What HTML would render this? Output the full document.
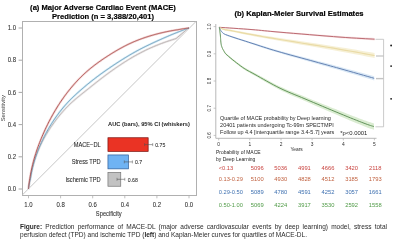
<!DOCTYPE html>
<html><head><meta charset="utf-8"><style>
html,body{margin:0;padding:0;background:#fff;width:400px;height:246px;overflow:hidden}
svg{position:absolute;left:0;top:0}
#wrap{position:absolute;left:0;top:0;width:400px;height:246px;filter:blur(0.45px)}
svg text{font-family:"Liberation Sans",sans-serif}
.cap{position:absolute;left:20px;width:367px;font-family:"Liberation Sans",sans-serif;font-size:6.54px;color:#2a2a2a;line-height:7.5px;white-space:nowrap}
.j{text-align:justify;text-align-last:justify}
</style></head><body><div id="wrap">
<svg width="400" height="246" viewBox="0 0 400 246">
<text x="0" y="2.736" transform="translate(103,7.264) scale(1,1.04)" font-size="7.6" fill="#000" text-anchor="middle" font-weight="bold"  stroke="#000" stroke-width="0.18">(a) Major Adverse Cardiac Event (MACE)</text>
<text x="0" y="2.736" transform="translate(103,16.264) scale(1,1.04)" font-size="7.6" fill="#000" text-anchor="middle" font-weight="bold"  stroke="#000" stroke-width="0.18">Prediction (n = 3,388/20,401)</text>
<text x="0" y="2.736" transform="translate(299.0,13.264) scale(1,1.04)" font-size="7.6" fill="#000" text-anchor="middle" font-weight="bold"  stroke="#000" stroke-width="0.18">(b) Kaplan-Meier Survival Estimates</text>
<rect x="22.5" y="21.5" width="174" height="174" fill="none" stroke="#b0b0b0" stroke-width="1"/>
<line x1="22" y1="195.3" x2="196" y2="21.5" stroke="#bfbfbf" stroke-width="0.9"/>
<line x1="18.6" y1="189.0" x2="22" y2="189.0" stroke="#909090" stroke-width="0.8"/>
<text x="0" y="2.160" transform="translate(16.1,188.940) scale(1,1.05)" font-size="6" fill="#2e2e2e" text-anchor="end" font-weight="normal" stroke="#2e2e2e" stroke-width="0.06" >0.0</text>
<line x1="18.6" y1="156.8" x2="22" y2="156.8" stroke="#909090" stroke-width="0.8"/>
<text x="0" y="2.160" transform="translate(16.1,156.740) scale(1,1.05)" font-size="6" fill="#2e2e2e" text-anchor="end" font-weight="normal" stroke="#2e2e2e" stroke-width="0.06" >0.2</text>
<line x1="18.6" y1="124.6" x2="22" y2="124.6" stroke="#909090" stroke-width="0.8"/>
<text x="0" y="2.160" transform="translate(16.1,124.540) scale(1,1.05)" font-size="6" fill="#2e2e2e" text-anchor="end" font-weight="normal" stroke="#2e2e2e" stroke-width="0.06" >0.4</text>
<line x1="18.6" y1="92.4" x2="22" y2="92.4" stroke="#909090" stroke-width="0.8"/>
<text x="0" y="2.160" transform="translate(16.1,92.340) scale(1,1.05)" font-size="6" fill="#2e2e2e" text-anchor="end" font-weight="normal" stroke="#2e2e2e" stroke-width="0.06" >0.6</text>
<line x1="18.6" y1="60.2" x2="22" y2="60.2" stroke="#909090" stroke-width="0.8"/>
<text x="0" y="2.160" transform="translate(16.1,60.140) scale(1,1.05)" font-size="6" fill="#2e2e2e" text-anchor="end" font-weight="normal" stroke="#2e2e2e" stroke-width="0.06" >0.8</text>
<line x1="18.6" y1="28.0" x2="22" y2="28.0" stroke="#909090" stroke-width="0.8"/>
<text x="0" y="2.160" transform="translate(16.1,27.940) scale(1,1.05)" font-size="6" fill="#2e2e2e" text-anchor="end" font-weight="normal" stroke="#2e2e2e" stroke-width="0.06" >1.0</text>
<line x1="28.5" y1="195.3" x2="28.5" y2="198.3" stroke="#b0b0b0" stroke-width="0.8"/>
<text x="0" y="2.160" transform="translate(28.5,204.840) scale(1,1.05)" font-size="6" fill="#2e2e2e" text-anchor="middle" font-weight="normal" stroke="#2e2e2e" stroke-width="0.06" >1.0</text>
<line x1="60.6" y1="195.3" x2="60.6" y2="198.3" stroke="#b0b0b0" stroke-width="0.8"/>
<text x="0" y="2.160" transform="translate(60.6,204.840) scale(1,1.05)" font-size="6" fill="#2e2e2e" text-anchor="middle" font-weight="normal" stroke="#2e2e2e" stroke-width="0.06" >0.8</text>
<line x1="92.7" y1="195.3" x2="92.7" y2="198.3" stroke="#b0b0b0" stroke-width="0.8"/>
<text x="0" y="2.160" transform="translate(92.7,204.840) scale(1,1.05)" font-size="6" fill="#2e2e2e" text-anchor="middle" font-weight="normal" stroke="#2e2e2e" stroke-width="0.06" >0.6</text>
<line x1="124.8" y1="195.3" x2="124.8" y2="198.3" stroke="#b0b0b0" stroke-width="0.8"/>
<text x="0" y="2.160" transform="translate(124.80000000000001,204.840) scale(1,1.05)" font-size="6" fill="#2e2e2e" text-anchor="middle" font-weight="normal" stroke="#2e2e2e" stroke-width="0.06" >0.4</text>
<line x1="156.9" y1="195.3" x2="156.9" y2="198.3" stroke="#b0b0b0" stroke-width="0.8"/>
<text x="0" y="2.160" transform="translate(156.9,204.840) scale(1,1.05)" font-size="6" fill="#2e2e2e" text-anchor="middle" font-weight="normal" stroke="#2e2e2e" stroke-width="0.06" >0.2</text>
<line x1="189.0" y1="195.3" x2="189.0" y2="198.3" stroke="#b0b0b0" stroke-width="0.8"/>
<text x="0" y="2.160" transform="translate(189.0,204.840) scale(1,1.05)" font-size="6" fill="#2e2e2e" text-anchor="middle" font-weight="normal" stroke="#2e2e2e" stroke-width="0.06" >0.0</text>
<text x="0" y="2.070" transform="translate(108.8,213.530) scale(1,1.22)" font-size="5.75" fill="#2e2e2e" text-anchor="middle" font-weight="normal" stroke="#2e2e2e" stroke-width="0.06" >Specificity</text>
<text x="0" y="2.088" font-size="5.8" fill="#3a3a3a" text-anchor="middle" transform="translate(3.4,108.2) rotate(-90) scale(1,1.0)">Sensitivity</text>
<path d="M28.50,188.94 L28.50,188.92 L28.50,188.91 L28.50,188.90 L28.51,188.88 L28.51,188.86 L28.51,188.84 L28.51,188.81 L28.52,188.78 L28.52,188.74 L28.53,188.70 L28.53,188.65 L28.54,188.60 L28.55,188.53 L28.56,188.45 L28.57,188.36 L28.58,188.26 L28.60,188.14 L28.61,188.00 L28.64,187.84 L28.66,187.66 L28.69,187.44 L28.73,187.19 L28.77,186.90 L28.82,186.57 L28.88,186.18 L28.96,185.73 L29.04,185.22 L29.15,184.62 L29.28,183.94 L29.43,183.15 L29.62,182.24 L29.84,181.20 L30.12,179.99 L30.45,178.61 L30.74,177.01 L31.04,175.16 L31.43,173.02 L31.93,170.57 L32.58,167.75 L32.57,167.77 L33.28,165.04 L33.98,162.55 L34.68,160.25 L35.39,158.09 L36.10,156.06 L36.80,154.12 L37.52,152.27 L38.23,150.50 L38.94,148.80 L39.66,147.16 L40.38,145.57 L41.11,144.04 L41.84,142.55 L42.57,141.10 L43.30,139.69 L44.03,138.32 L44.77,136.98 L45.51,135.67 L46.26,134.40 L47.00,133.15 L47.75,131.93 L48.50,130.73 L49.25,129.56 L50.00,128.41 L50.75,127.27 L51.50,126.16 L52.26,125.07 L53.01,124.00 L53.77,122.94 L54.53,121.91 L55.29,120.88 L56.05,119.88 L56.81,118.88 L57.57,117.91 L58.33,116.94 L59.10,115.99 L59.86,115.06 L60.63,114.14 L61.40,113.23 L62.17,112.33 L62.95,111.45 L63.72,110.57 L64.50,109.72 L65.28,108.87 L66.07,108.04 L66.85,107.22 L67.65,106.41 L68.44,105.61 L69.24,104.83 L70.04,104.06 L70.84,103.30 L71.65,102.55 L72.46,101.81 L73.27,101.08 L74.08,100.37 L74.90,99.66 L75.72,98.96 L76.54,98.28 L77.35,97.59 L78.17,96.92 L78.99,96.25 L79.81,95.59 L80.62,94.93 L81.43,94.28 L82.24,93.63 L83.05,92.98 L83.85,92.34 L84.65,91.70 L85.45,91.06 L86.24,90.43 L87.04,89.79 L87.83,89.16 L88.61,88.53 L89.40,87.90 L90.18,87.28 L90.96,86.66 L91.74,86.03 L92.51,85.42 L93.29,84.80 L94.06,84.19 L94.83,83.58 L95.60,82.97 L96.37,82.36 L97.14,81.76 L97.90,81.16 L98.67,80.56 L99.44,79.96 L100.20,79.37 L100.96,78.78 L101.73,78.20 L102.49,77.61 L103.26,77.03 L104.02,76.46 L104.78,75.88 L105.54,75.31 L106.31,74.74 L107.07,74.18 L107.83,73.62 L108.59,73.06 L109.35,72.50 L110.12,71.95 L110.88,71.40 L111.64,70.86 L112.40,70.31 L113.17,69.77 L113.93,69.24 L114.69,68.70 L115.46,68.17 L116.22,67.64 L116.99,67.12 L117.75,66.60 L118.52,66.08 L119.28,65.57 L120.05,65.06 L120.82,64.55 L121.58,64.04 L122.35,63.54 L123.12,63.04 L123.89,62.55 L124.65,62.05 L125.42,61.57 L126.19,61.08 L126.96,60.59 L127.73,60.11 L128.50,59.63 L129.27,59.16 L130.88,58.20 L132.49,57.25 L134.10,56.32 L135.72,55.42 L137.33,54.53 L138.94,53.66 L140.55,52.81 L142.16,51.97 L143.77,51.16 L145.38,50.37 L147.00,49.59 L148.61,48.84 L150.22,48.10 L151.83,47.39 L153.44,46.69 L155.05,46.02 L156.66,45.36 L158.27,44.72 L159.89,44.09 L161.50,43.48 L163.11,42.89 L164.72,42.30 L166.33,41.73 L167.94,41.17 L169.55,40.63 L171.17,40.10 L172.78,39.58 L174.39,39.09 L176.00,38.60 L182.00,33.60 L188.80,27.90" fill="none" stroke="#ebe8e8" stroke-width="2.2" stroke-linejoin="round"/>
<path d="M28.50,188.96 L28.50,188.95 L28.50,188.94 L28.50,188.93 L28.50,188.91 L28.51,188.90 L28.51,188.88 L28.51,188.86 L28.51,188.83 L28.52,188.80 L28.52,188.77 L28.52,188.73 L28.53,188.68 L28.53,188.62 L28.54,188.56 L28.55,188.48 L28.56,188.39 L28.57,188.28 L28.59,188.16 L28.61,188.02 L28.63,187.85 L28.65,187.65 L28.68,187.42 L28.72,187.14 L28.77,186.83 L28.82,186.46 L28.89,186.03 L28.97,185.53 L29.07,184.95 L29.19,184.27 L29.33,183.48 L29.51,182.57 L29.73,181.52 L30.00,180.29 L30.32,178.88 L30.64,177.23 L30.95,175.31 L31.36,173.09 L31.88,170.53 L32.56,167.57 L32.56,167.59 L33.29,164.72 L34.02,162.10 L34.75,159.67 L35.48,157.40 L36.21,155.24 L36.94,153.20 L37.67,151.25 L38.40,149.38 L39.13,147.58 L39.87,145.84 L40.60,144.17 L41.33,142.54 L42.06,140.97 L42.80,139.43 L43.53,137.94 L44.26,136.49 L45.00,135.07 L45.73,133.68 L46.47,132.32 L47.20,131.00 L47.94,129.70 L48.67,128.42 L49.41,127.18 L50.15,125.95 L50.89,124.75 L51.62,123.57 L52.37,122.40 L53.11,121.26 L53.85,120.14 L54.59,119.03 L55.34,117.95 L56.09,116.88 L56.84,115.82 L57.59,114.79 L58.34,113.77 L59.09,112.76 L59.85,111.77 L60.61,110.79 L61.37,109.83 L62.14,108.88 L62.90,107.95 L63.67,107.03 L64.44,106.13 L65.22,105.24 L66.00,104.36 L66.78,103.49 L67.56,102.64 L68.35,101.80 L69.14,100.97 L69.93,100.16 L70.72,99.35 L71.52,98.56 L72.32,97.78 L73.11,97.01 L73.91,96.24 L74.71,95.49 L75.51,94.75 L76.31,94.01 L77.11,93.28 L77.91,92.56 L78.71,91.84 L79.51,91.14 L80.31,90.44 L81.10,89.74 L81.90,89.05 L82.69,88.37 L83.48,87.69 L84.28,87.02 L85.07,86.35 L85.86,85.69 L86.64,85.03 L87.43,84.38 L88.22,83.74 L89.01,83.10 L89.79,82.46 L90.58,81.83 L91.36,81.20 L92.15,80.58 L92.93,79.97 L93.72,79.36 L94.50,78.75 L95.28,78.15 L96.07,77.55 L96.85,76.96 L97.63,76.37 L98.41,75.79 L99.20,75.21 L99.98,74.63 L100.76,74.06 L101.54,73.50 L102.32,72.94 L103.10,72.38 L103.88,71.82 L104.66,71.27 L105.44,70.72 L106.22,70.18 L107.00,69.64 L107.77,69.10 L108.55,68.57 L109.33,68.04 L110.10,67.51 L110.88,66.99 L111.65,66.46 L112.43,65.94 L113.20,65.43 L113.97,64.91 L114.75,64.40 L115.52,63.90 L116.29,63.39 L117.06,62.89 L117.83,62.39 L118.60,61.89 L119.37,61.39 L120.14,60.90 L120.91,60.41 L121.68,59.93 L122.45,59.44 L123.22,58.96 L123.99,58.48 L124.76,58.01 L125.53,57.54 L126.29,57.07 L127.06,56.60 L127.83,56.14 L128.60,55.68 L129.37,55.22 L130.14,54.77 L130.91,54.32 L131.68,53.87 L132.45,53.43 L133.22,52.99 L133.99,52.55 L134.77,52.12 L135.54,51.69 L136.31,51.26 L137.08,50.84 L137.86,50.42 L138.63,50.00 L139.41,49.59 L140.18,49.18 L140.96,48.78 L141.73,48.38 L142.51,47.98 L143.29,47.59 L144.06,47.20 L144.84,46.81 L145.62,46.42 L146.40,46.04 L147.18,45.66 L147.95,45.29 L148.73,44.91 L149.51,44.54 L150.29,44.18 L151.07,43.81 L151.84,43.44 L152.62,43.08 L153.40,42.72 L154.17,42.36 L154.95,42.00 L155.73,41.65 L156.50,41.29 L157.28,40.94 L158.05,40.59 L158.83,40.24 L159.60,39.89 L160.37,39.55 L161.15,39.20 L161.92,38.86 L162.69,38.51 L163.46,38.17 L164.24,37.84 L165.01,37.50 L165.78,37.16 L166.55,36.83 L167.32,36.50 L168.09,36.17 L168.86,35.84 L169.63,35.51 L170.40,35.19 L171.17,34.86 L171.94,34.54 L172.71,34.22 L173.48,33.91 L174.25,33.59 L175.02,33.28 L175.79,32.97 L176.56,32.66 L177.33,32.36 L178.10,32.06 L178.87,31.75 L179.64,31.46 L180.41,31.16 L181.18,30.85 L181.95,30.55 L182.72,30.26 L183.48,29.97 L184.25,29.68 L185.02,29.40 L185.80,29.13 L185.80,29.13 L186.51,28.87 L187.07,28.68 L187.50,28.53 L187.84,28.41 L188.10,28.32 L188.30,28.25 L188.46,28.20 L188.58,28.15 L188.67,28.12 L188.75,28.10 L188.80,28.07 L188.85,28.06 L188.88,28.05 L188.91,28.04 L188.93,28.03 L188.94,28.02 L188.96,28.02 L188.97,28.01 L188.97,28.01 L188.98,28.01 L188.98,28.01 L188.99,28.01 L188.99,28.00 L188.99,28.00 L188.99,28.00 L189.00,28.00 L189.00,28.00 L189.00,28.00 L189.00,28.00 L189.00,28.00 L189.00,28.00 L189.00,28.00 L189.00,28.00 L189.00,28.00 L189.00,28.00 L189.00,28.00 L189.00,28.00 L189.00,28.00 L189.00,28.00" fill="none" stroke="#d2ecf6" stroke-width="2.2" stroke-linejoin="round"/>
<path d="M28.50,188.99 L28.50,188.99 L28.50,188.99 L28.50,188.98 L28.50,188.98 L28.50,188.97 L28.50,188.97 L28.50,188.96 L28.50,188.95 L28.50,188.94 L28.50,188.92 L28.50,188.91 L28.50,188.89 L28.51,188.86 L28.51,188.83 L28.51,188.79 L28.51,188.74 L28.52,188.68 L28.52,188.61 L28.53,188.53 L28.53,188.42 L28.54,188.29 L28.55,188.14 L28.57,187.95 L28.59,187.72 L28.61,187.44 L28.64,187.10 L28.68,186.70 L28.73,186.21 L28.80,185.62 L28.88,184.91 L28.99,184.07 L29.12,183.05 L29.29,181.84 L29.51,180.39 L29.79,178.67 L30.13,176.62 L30.55,174.20 L31.11,171.35 L31.82,167.99 L31.82,167.99 L32.60,164.69 L33.37,161.63 L34.16,158.77 L34.95,156.07 L35.74,153.52 L36.53,151.08 L37.33,148.75 L38.13,146.52 L38.92,144.37 L39.72,142.30 L40.51,140.29 L41.31,138.36 L42.09,136.48 L42.88,134.65 L43.66,132.87 L44.44,131.14 L45.21,129.45 L45.98,127.81 L46.75,126.20 L47.52,124.63 L48.28,123.09 L49.04,121.59 L49.80,120.12 L50.56,118.68 L51.32,117.26 L52.08,115.88 L52.84,114.52 L53.59,113.18 L54.35,111.87 L55.11,110.59 L55.86,109.32 L56.62,108.08 L57.37,106.86 L58.13,105.66 L58.88,104.48 L59.64,103.32 L60.39,102.18 L61.15,101.05 L61.90,99.95 L62.66,98.86 L63.42,97.79 L64.18,96.73 L64.93,95.69 L65.69,94.66 L66.45,93.65 L67.21,92.66 L67.97,91.68 L68.73,90.71 L69.49,89.76 L70.25,88.82 L71.01,87.89 L71.77,86.98 L72.54,86.07 L73.30,85.19 L74.06,84.31 L74.83,83.45 L75.60,82.59 L76.36,81.75 L77.13,80.93 L77.90,80.11 L78.67,79.30 L79.44,78.51 L80.22,77.73 L80.99,76.96 L81.77,76.20 L82.54,75.45 L83.32,74.71 L84.10,73.98 L84.88,73.26 L85.66,72.55 L86.44,71.85 L87.23,71.17 L88.01,70.49 L88.79,69.82 L89.58,69.16 L90.37,68.51 L91.15,67.87 L91.94,67.24 L92.73,66.61 L93.52,66.00 L94.30,65.39 L95.09,64.79 L95.88,64.20 L96.67,63.61 L97.45,63.03 L98.24,62.46 L99.03,61.90 L99.81,61.34 L100.60,60.79 L101.38,60.24 L102.16,59.70 L102.95,59.16 L103.73,58.64 L104.51,58.11 L105.29,57.59 L106.07,57.08 L106.85,56.57 L107.63,56.07 L108.40,55.57 L109.18,55.08 L109.95,54.59 L110.73,54.10 L111.50,53.62 L112.28,53.15 L113.05,52.67 L113.82,52.21 L114.59,51.75 L115.36,51.29 L116.13,50.83 L116.90,50.39 L117.67,49.94 L118.44,49.50 L119.21,49.07 L119.98,48.64 L120.75,48.21 L121.52,47.79 L122.29,47.37 L123.06,46.96 L123.83,46.56 L124.60,46.15 L125.37,45.76 L126.14,45.37 L126.91,44.98 L127.69,44.60 L128.46,44.23 L129.23,43.86 L130.01,43.50 L130.78,43.14 L131.55,42.79 L132.33,42.45 L133.10,42.10 L133.88,41.77 L134.66,41.44 L135.43,41.12 L136.21,40.80 L136.99,40.48 L137.77,40.18 L138.55,39.87 L139.32,39.58 L140.10,39.28 L140.88,38.99 L141.66,38.71 L142.44,38.43 L143.22,38.16 L144.00,37.89 L144.78,37.62 L145.56,37.36 L146.34,37.10 L147.12,36.85 L147.89,36.60 L148.67,36.36 L149.45,36.12 L150.23,35.88 L151.01,35.64 L151.79,35.42 L152.56,35.19 L153.34,34.97 L154.12,34.75 L154.90,34.53 L155.68,34.32 L156.45,34.11 L157.23,33.91 L158.01,33.71 L158.78,33.51 L159.56,33.32 L160.33,33.13 L161.11,32.94 L161.89,32.76 L162.66,32.58 L163.44,32.40 L164.21,32.22 L164.99,32.05 L165.76,31.89 L166.54,31.72 L167.31,31.56 L168.08,31.41 L168.86,31.25 L169.63,31.10 L170.41,30.96 L171.18,30.81 L171.95,30.67 L172.73,30.54 L173.50,30.41 L174.27,30.28 L175.04,30.15 L175.82,30.03 L176.59,29.92 L177.36,29.80 L178.13,29.69 L178.90,29.55 L179.67,29.40 L180.43,29.26 L181.20,29.12 L181.97,28.98 L182.73,28.85 L183.50,28.72 L184.27,28.60 L185.04,28.49 L185.81,28.38 L185.80,28.38 L186.52,28.28 L187.08,28.21 L187.51,28.15 L187.84,28.11 L188.10,28.09 L188.30,28.06 L188.46,28.05 L188.58,28.04 L188.67,28.03 L188.75,28.02 L188.80,28.02 L188.85,28.01 L188.88,28.01 L188.91,28.01 L188.93,28.01 L188.94,28.00 L188.96,28.00 L188.97,28.00 L188.97,28.00 L188.98,28.00 L188.98,28.00 L188.99,28.00 L188.99,28.00 L188.99,28.00 L188.99,28.00 L189.00,28.00 L189.00,28.00 L189.00,28.00 L189.00,28.00 L189.00,28.00 L189.00,28.00 L189.00,28.00 L189.00,28.00 L189.00,28.00 L189.00,28.00 L189.00,28.00 L189.00,28.00 L189.00,28.00 L189.00,28.00" fill="none" stroke="#f2d2d2" stroke-width="2.2" stroke-linejoin="round"/>
<path d="M28.50,188.94 L28.50,188.92 L28.50,188.91 L28.50,188.90 L28.51,188.88 L28.51,188.86 L28.51,188.84 L28.51,188.81 L28.52,188.78 L28.52,188.74 L28.53,188.70 L28.53,188.65 L28.54,188.60 L28.55,188.53 L28.56,188.45 L28.57,188.36 L28.58,188.26 L28.60,188.14 L28.61,188.00 L28.64,187.84 L28.66,187.66 L28.69,187.44 L28.73,187.19 L28.77,186.90 L28.82,186.57 L28.88,186.18 L28.96,185.73 L29.04,185.22 L29.15,184.62 L29.28,183.94 L29.43,183.15 L29.62,182.24 L29.84,181.20 L30.12,179.99 L30.45,178.61 L30.74,177.01 L31.04,175.16 L31.43,173.02 L31.93,170.57 L32.58,167.75 L32.57,167.77 L33.28,165.04 L33.98,162.55 L34.68,160.25 L35.39,158.09 L36.10,156.06 L36.80,154.12 L37.52,152.27 L38.23,150.50 L38.94,148.80 L39.66,147.16 L40.38,145.57 L41.11,144.04 L41.84,142.55 L42.57,141.10 L43.30,139.69 L44.03,138.32 L44.77,136.98 L45.51,135.67 L46.26,134.40 L47.00,133.15 L47.75,131.93 L48.50,130.73 L49.25,129.56 L50.00,128.41 L50.75,127.27 L51.50,126.16 L52.26,125.07 L53.01,124.00 L53.77,122.94 L54.53,121.91 L55.29,120.88 L56.05,119.88 L56.81,118.88 L57.57,117.91 L58.33,116.94 L59.10,115.99 L59.86,115.06 L60.63,114.14 L61.40,113.23 L62.17,112.33 L62.95,111.45 L63.72,110.57 L64.50,109.72 L65.28,108.87 L66.07,108.04 L66.85,107.22 L67.65,106.41 L68.44,105.61 L69.24,104.83 L70.04,104.06 L70.84,103.30 L71.65,102.55 L72.46,101.81 L73.27,101.08 L74.08,100.37 L74.90,99.66 L75.72,98.96 L76.54,98.28 L77.35,97.59 L78.17,96.92 L78.99,96.25 L79.81,95.59 L80.62,94.93 L81.43,94.28 L82.24,93.63 L83.05,92.98 L83.85,92.34 L84.65,91.70 L85.45,91.06 L86.24,90.43 L87.04,89.79 L87.83,89.16 L88.61,88.53 L89.40,87.90 L90.18,87.28 L90.96,86.66 L91.74,86.03 L92.51,85.42 L93.29,84.80 L94.06,84.19 L94.83,83.58 L95.60,82.97 L96.37,82.36 L97.14,81.76 L97.90,81.16 L98.67,80.56 L99.44,79.96 L100.20,79.37 L100.96,78.78 L101.73,78.20 L102.49,77.61 L103.26,77.03 L104.02,76.46 L104.78,75.88 L105.54,75.31 L106.31,74.74 L107.07,74.18 L107.83,73.62 L108.59,73.06 L109.35,72.50 L110.12,71.95 L110.88,71.40 L111.64,70.86 L112.40,70.31 L113.17,69.77 L113.93,69.24 L114.69,68.70 L115.46,68.17 L116.22,67.64 L116.99,67.12 L117.75,66.60 L118.52,66.08 L119.28,65.57 L120.05,65.06 L120.82,64.55 L121.58,64.04 L122.35,63.54 L123.12,63.04 L123.89,62.55 L124.65,62.05 L125.42,61.57 L126.19,61.08 L126.96,60.59 L127.73,60.11 L128.50,59.63 L129.27,59.16 L130.88,58.20 L132.49,57.25 L134.10,56.32 L135.72,55.42 L137.33,54.53 L138.94,53.66 L140.55,52.81 L142.16,51.97 L143.77,51.16 L145.38,50.37 L147.00,49.59 L148.61,48.84 L150.22,48.10 L151.83,47.39 L153.44,46.69 L155.05,46.02 L156.66,45.36 L158.27,44.72 L159.89,44.09 L161.50,43.48 L163.11,42.89 L164.72,42.30 L166.33,41.73 L167.94,41.17 L169.55,40.63 L171.17,40.10 L172.78,39.58 L174.39,39.09 L176.00,38.60 L182.00,33.60 L188.80,27.90" fill="none" stroke="#b8b0b0" stroke-width="0.9" stroke-linejoin="round"/>
<path d="M28.50,188.96 L28.50,188.95 L28.50,188.94 L28.50,188.93 L28.50,188.91 L28.51,188.90 L28.51,188.88 L28.51,188.86 L28.51,188.83 L28.52,188.80 L28.52,188.77 L28.52,188.73 L28.53,188.68 L28.53,188.62 L28.54,188.56 L28.55,188.48 L28.56,188.39 L28.57,188.28 L28.59,188.16 L28.61,188.02 L28.63,187.85 L28.65,187.65 L28.68,187.42 L28.72,187.14 L28.77,186.83 L28.82,186.46 L28.89,186.03 L28.97,185.53 L29.07,184.95 L29.19,184.27 L29.33,183.48 L29.51,182.57 L29.73,181.52 L30.00,180.29 L30.32,178.88 L30.64,177.23 L30.95,175.31 L31.36,173.09 L31.88,170.53 L32.56,167.57 L32.56,167.59 L33.29,164.72 L34.02,162.10 L34.75,159.67 L35.48,157.40 L36.21,155.24 L36.94,153.20 L37.67,151.25 L38.40,149.38 L39.13,147.58 L39.87,145.84 L40.60,144.17 L41.33,142.54 L42.06,140.97 L42.80,139.43 L43.53,137.94 L44.26,136.49 L45.00,135.07 L45.73,133.68 L46.47,132.32 L47.20,131.00 L47.94,129.70 L48.67,128.42 L49.41,127.18 L50.15,125.95 L50.89,124.75 L51.62,123.57 L52.37,122.40 L53.11,121.26 L53.85,120.14 L54.59,119.03 L55.34,117.95 L56.09,116.88 L56.84,115.82 L57.59,114.79 L58.34,113.77 L59.09,112.76 L59.85,111.77 L60.61,110.79 L61.37,109.83 L62.14,108.88 L62.90,107.95 L63.67,107.03 L64.44,106.13 L65.22,105.24 L66.00,104.36 L66.78,103.49 L67.56,102.64 L68.35,101.80 L69.14,100.97 L69.93,100.16 L70.72,99.35 L71.52,98.56 L72.32,97.78 L73.11,97.01 L73.91,96.24 L74.71,95.49 L75.51,94.75 L76.31,94.01 L77.11,93.28 L77.91,92.56 L78.71,91.84 L79.51,91.14 L80.31,90.44 L81.10,89.74 L81.90,89.05 L82.69,88.37 L83.48,87.69 L84.28,87.02 L85.07,86.35 L85.86,85.69 L86.64,85.03 L87.43,84.38 L88.22,83.74 L89.01,83.10 L89.79,82.46 L90.58,81.83 L91.36,81.20 L92.15,80.58 L92.93,79.97 L93.72,79.36 L94.50,78.75 L95.28,78.15 L96.07,77.55 L96.85,76.96 L97.63,76.37 L98.41,75.79 L99.20,75.21 L99.98,74.63 L100.76,74.06 L101.54,73.50 L102.32,72.94 L103.10,72.38 L103.88,71.82 L104.66,71.27 L105.44,70.72 L106.22,70.18 L107.00,69.64 L107.77,69.10 L108.55,68.57 L109.33,68.04 L110.10,67.51 L110.88,66.99 L111.65,66.46 L112.43,65.94 L113.20,65.43 L113.97,64.91 L114.75,64.40 L115.52,63.90 L116.29,63.39 L117.06,62.89 L117.83,62.39 L118.60,61.89 L119.37,61.39 L120.14,60.90 L120.91,60.41 L121.68,59.93 L122.45,59.44 L123.22,58.96 L123.99,58.48 L124.76,58.01 L125.53,57.54 L126.29,57.07 L127.06,56.60 L127.83,56.14 L128.60,55.68 L129.37,55.22 L130.14,54.77 L130.91,54.32 L131.68,53.87 L132.45,53.43 L133.22,52.99 L133.99,52.55 L134.77,52.12 L135.54,51.69 L136.31,51.26 L137.08,50.84 L137.86,50.42 L138.63,50.00 L139.41,49.59 L140.18,49.18 L140.96,48.78 L141.73,48.38 L142.51,47.98 L143.29,47.59 L144.06,47.20 L144.84,46.81 L145.62,46.42 L146.40,46.04 L147.18,45.66 L147.95,45.29 L148.73,44.91 L149.51,44.54 L150.29,44.18 L151.07,43.81 L151.84,43.44 L152.62,43.08 L153.40,42.72 L154.17,42.36 L154.95,42.00 L155.73,41.65 L156.50,41.29 L157.28,40.94 L158.05,40.59 L158.83,40.24 L159.60,39.89 L160.37,39.55 L161.15,39.20 L161.92,38.86 L162.69,38.51 L163.46,38.17 L164.24,37.84 L165.01,37.50 L165.78,37.16 L166.55,36.83 L167.32,36.50 L168.09,36.17 L168.86,35.84 L169.63,35.51 L170.40,35.19 L171.17,34.86 L171.94,34.54 L172.71,34.22 L173.48,33.91 L174.25,33.59 L175.02,33.28 L175.79,32.97 L176.56,32.66 L177.33,32.36 L178.10,32.06 L178.87,31.75 L179.64,31.46 L180.41,31.16 L181.18,30.85 L181.95,30.55 L182.72,30.26 L183.48,29.97 L184.25,29.68 L185.02,29.40 L185.80,29.13 L185.80,29.13 L186.51,28.87 L187.07,28.68 L187.50,28.53 L187.84,28.41 L188.10,28.32 L188.30,28.25 L188.46,28.20 L188.58,28.15 L188.67,28.12 L188.75,28.10 L188.80,28.07 L188.85,28.06 L188.88,28.05 L188.91,28.04 L188.93,28.03 L188.94,28.02 L188.96,28.02 L188.97,28.01 L188.97,28.01 L188.98,28.01 L188.98,28.01 L188.99,28.01 L188.99,28.00 L188.99,28.00 L188.99,28.00 L189.00,28.00 L189.00,28.00 L189.00,28.00 L189.00,28.00 L189.00,28.00 L189.00,28.00 L189.00,28.00 L189.00,28.00 L189.00,28.00 L189.00,28.00 L189.00,28.00 L189.00,28.00 L189.00,28.00 L189.00,28.00" fill="none" stroke="#6e98b8" stroke-width="0.9" stroke-linejoin="round"/>
<path d="M28.50,188.99 L28.50,188.99 L28.50,188.99 L28.50,188.98 L28.50,188.98 L28.50,188.97 L28.50,188.97 L28.50,188.96 L28.50,188.95 L28.50,188.94 L28.50,188.92 L28.50,188.91 L28.50,188.89 L28.51,188.86 L28.51,188.83 L28.51,188.79 L28.51,188.74 L28.52,188.68 L28.52,188.61 L28.53,188.53 L28.53,188.42 L28.54,188.29 L28.55,188.14 L28.57,187.95 L28.59,187.72 L28.61,187.44 L28.64,187.10 L28.68,186.70 L28.73,186.21 L28.80,185.62 L28.88,184.91 L28.99,184.07 L29.12,183.05 L29.29,181.84 L29.51,180.39 L29.79,178.67 L30.13,176.62 L30.55,174.20 L31.11,171.35 L31.82,167.99 L31.82,167.99 L32.60,164.69 L33.37,161.63 L34.16,158.77 L34.95,156.07 L35.74,153.52 L36.53,151.08 L37.33,148.75 L38.13,146.52 L38.92,144.37 L39.72,142.30 L40.51,140.29 L41.31,138.36 L42.09,136.48 L42.88,134.65 L43.66,132.87 L44.44,131.14 L45.21,129.45 L45.98,127.81 L46.75,126.20 L47.52,124.63 L48.28,123.09 L49.04,121.59 L49.80,120.12 L50.56,118.68 L51.32,117.26 L52.08,115.88 L52.84,114.52 L53.59,113.18 L54.35,111.87 L55.11,110.59 L55.86,109.32 L56.62,108.08 L57.37,106.86 L58.13,105.66 L58.88,104.48 L59.64,103.32 L60.39,102.18 L61.15,101.05 L61.90,99.95 L62.66,98.86 L63.42,97.79 L64.18,96.73 L64.93,95.69 L65.69,94.66 L66.45,93.65 L67.21,92.66 L67.97,91.68 L68.73,90.71 L69.49,89.76 L70.25,88.82 L71.01,87.89 L71.77,86.98 L72.54,86.07 L73.30,85.19 L74.06,84.31 L74.83,83.45 L75.60,82.59 L76.36,81.75 L77.13,80.93 L77.90,80.11 L78.67,79.30 L79.44,78.51 L80.22,77.73 L80.99,76.96 L81.77,76.20 L82.54,75.45 L83.32,74.71 L84.10,73.98 L84.88,73.26 L85.66,72.55 L86.44,71.85 L87.23,71.17 L88.01,70.49 L88.79,69.82 L89.58,69.16 L90.37,68.51 L91.15,67.87 L91.94,67.24 L92.73,66.61 L93.52,66.00 L94.30,65.39 L95.09,64.79 L95.88,64.20 L96.67,63.61 L97.45,63.03 L98.24,62.46 L99.03,61.90 L99.81,61.34 L100.60,60.79 L101.38,60.24 L102.16,59.70 L102.95,59.16 L103.73,58.64 L104.51,58.11 L105.29,57.59 L106.07,57.08 L106.85,56.57 L107.63,56.07 L108.40,55.57 L109.18,55.08 L109.95,54.59 L110.73,54.10 L111.50,53.62 L112.28,53.15 L113.05,52.67 L113.82,52.21 L114.59,51.75 L115.36,51.29 L116.13,50.83 L116.90,50.39 L117.67,49.94 L118.44,49.50 L119.21,49.07 L119.98,48.64 L120.75,48.21 L121.52,47.79 L122.29,47.37 L123.06,46.96 L123.83,46.56 L124.60,46.15 L125.37,45.76 L126.14,45.37 L126.91,44.98 L127.69,44.60 L128.46,44.23 L129.23,43.86 L130.01,43.50 L130.78,43.14 L131.55,42.79 L132.33,42.45 L133.10,42.10 L133.88,41.77 L134.66,41.44 L135.43,41.12 L136.21,40.80 L136.99,40.48 L137.77,40.18 L138.55,39.87 L139.32,39.58 L140.10,39.28 L140.88,38.99 L141.66,38.71 L142.44,38.43 L143.22,38.16 L144.00,37.89 L144.78,37.62 L145.56,37.36 L146.34,37.10 L147.12,36.85 L147.89,36.60 L148.67,36.36 L149.45,36.12 L150.23,35.88 L151.01,35.64 L151.79,35.42 L152.56,35.19 L153.34,34.97 L154.12,34.75 L154.90,34.53 L155.68,34.32 L156.45,34.11 L157.23,33.91 L158.01,33.71 L158.78,33.51 L159.56,33.32 L160.33,33.13 L161.11,32.94 L161.89,32.76 L162.66,32.58 L163.44,32.40 L164.21,32.22 L164.99,32.05 L165.76,31.89 L166.54,31.72 L167.31,31.56 L168.08,31.41 L168.86,31.25 L169.63,31.10 L170.41,30.96 L171.18,30.81 L171.95,30.67 L172.73,30.54 L173.50,30.41 L174.27,30.28 L175.04,30.15 L175.82,30.03 L176.59,29.92 L177.36,29.80 L178.13,29.69 L178.90,29.55 L179.67,29.40 L180.43,29.26 L181.20,29.12 L181.97,28.98 L182.73,28.85 L183.50,28.72 L184.27,28.60 L185.04,28.49 L185.81,28.38 L185.80,28.38 L186.52,28.28 L187.08,28.21 L187.51,28.15 L187.84,28.11 L188.10,28.09 L188.30,28.06 L188.46,28.05 L188.58,28.04 L188.67,28.03 L188.75,28.02 L188.80,28.02 L188.85,28.01 L188.88,28.01 L188.91,28.01 L188.93,28.01 L188.94,28.00 L188.96,28.00 L188.97,28.00 L188.97,28.00 L188.98,28.00 L188.98,28.00 L188.99,28.00 L188.99,28.00 L188.99,28.00 L188.99,28.00 L189.00,28.00 L189.00,28.00 L189.00,28.00 L189.00,28.00 L189.00,28.00 L189.00,28.00 L189.00,28.00 L189.00,28.00 L189.00,28.00 L189.00,28.00 L189.00,28.00 L189.00,28.00 L189.00,28.00 L189.00,28.00" fill="none" stroke="#a84e4c" stroke-width="0.9" stroke-linejoin="round"/>
<text x="0" y="2.070" transform="translate(108.0,123.530) scale(1,1.02)" font-size="5.75" fill="#222" text-anchor="start" font-weight="bold"  stroke="none">AUC (bars), 95% CI (whiskers)</text>
<rect x="107.95" y="137.75" width="40.20" height="13.60" fill="#ea3324" stroke="#7a100c" stroke-width="0.7"/>
<line x1="144.6" y1="144.6" x2="152.7" y2="144.6" stroke="#505050" stroke-width="0.55"/>
<line x1="144.6" y1="143.1" x2="144.6" y2="146.1" stroke="#505050" stroke-width="0.5"/>
<line x1="152.7" y1="143.1" x2="152.7" y2="146.1" stroke="#505050" stroke-width="0.5"/>
<text x="0" y="1.872" transform="translate(155.2,144.678) scale(1,1.18)" font-size="5.2" fill="#2e2e2e" text-anchor="start" font-weight="normal" stroke="#2e2e2e" stroke-width="0.06" >0.75</text>
<text x="0" y="2.052" transform="translate(100.7,144.498) scale(1,1.18)" font-size="5.7" fill="#262626" text-anchor="end" font-weight="normal" stroke="#262626" stroke-width="0.06" >MACE−DL</text>
<rect x="107.95" y="154.95" width="20.40" height="13.90" fill="#6fb3f3" stroke="#2c5c98" stroke-width="0.7"/>
<line x1="124.3" y1="161.9" x2="132.4" y2="161.9" stroke="#505050" stroke-width="0.55"/>
<line x1="124.3" y1="160.4" x2="124.3" y2="163.4" stroke="#505050" stroke-width="0.5"/>
<line x1="132.4" y1="160.4" x2="132.4" y2="163.4" stroke="#505050" stroke-width="0.5"/>
<text x="0" y="1.872" transform="translate(135.0,162.028) scale(1,1.18)" font-size="5.2" fill="#2e2e2e" text-anchor="start" font-weight="normal" stroke="#2e2e2e" stroke-width="0.06" >0.7</text>
<text x="0" y="2.052" transform="translate(100.7,161.848) scale(1,1.18)" font-size="5.7" fill="#262626" text-anchor="end" font-weight="normal" stroke="#262626" stroke-width="0.06" >Stress TPD</text>
<rect x="107.95" y="172.35" width="12.80" height="13.90" fill="#c2c2c2" stroke="#767676" stroke-width="0.7"/>
<line x1="117.0" y1="179.3" x2="124.8" y2="179.3" stroke="#505050" stroke-width="0.55"/>
<line x1="117.0" y1="177.8" x2="117.0" y2="180.8" stroke="#505050" stroke-width="0.5"/>
<line x1="124.8" y1="177.8" x2="124.8" y2="180.8" stroke="#505050" stroke-width="0.5"/>
<text x="0" y="1.872" transform="translate(127.8,179.428) scale(1,1.18)" font-size="5.2" fill="#2e2e2e" text-anchor="start" font-weight="normal" stroke="#2e2e2e" stroke-width="0.06" >0.68</text>
<text x="0" y="2.052" transform="translate(100.7,179.248) scale(1,1.18)" font-size="5.7" fill="#262626" text-anchor="end" font-weight="normal" stroke="#262626" stroke-width="0.06" >Ischemic TPD</text>
<polyline points="215.8,24 215.8,138.3 376.5,138.3" fill="none" stroke="#b0b0b0" stroke-width="0.9"/>
<line x1="213.6" y1="26.6" x2="215.8" y2="26.6" stroke="#b0b0b0" stroke-width="0.7"/>
<text x="0" y="1.656" font-size="4.6" fill="#262626" text-anchor="middle" transform="translate(209.4,26.6) rotate(-90)">1.0</text>
<line x1="213.6" y1="53.8" x2="215.8" y2="53.8" stroke="#b0b0b0" stroke-width="0.7"/>
<text x="0" y="1.656" font-size="4.6" fill="#262626" text-anchor="middle" transform="translate(209.4,53.8) rotate(-90)">0.9</text>
<line x1="213.6" y1="81.0" x2="215.8" y2="81.0" stroke="#b0b0b0" stroke-width="0.7"/>
<text x="0" y="1.656" font-size="4.6" fill="#262626" text-anchor="middle" transform="translate(209.4,81.0) rotate(-90)">0.8</text>
<line x1="213.6" y1="108.2" x2="215.8" y2="108.2" stroke="#b0b0b0" stroke-width="0.7"/>
<text x="0" y="1.656" font-size="4.6" fill="#262626" text-anchor="middle" transform="translate(209.4,108.2) rotate(-90)">0.7</text>
<line x1="213.6" y1="135.4" x2="215.8" y2="135.4" stroke="#b0b0b0" stroke-width="0.7"/>
<text x="0" y="1.656" font-size="4.6" fill="#262626" text-anchor="middle" transform="translate(209.4,135.4) rotate(-90)">0.6</text>
<line x1="218.7" y1="138.3" x2="218.7" y2="140.4" stroke="#b0b0b0" stroke-width="0.7"/>
<text x="0" y="1.764" transform="translate(218.7,144.336) scale(1,1.03)" font-size="4.9" fill="#2e2e2e" text-anchor="middle" font-weight="normal" stroke="#2e2e2e" stroke-width="0.0" >0</text>
<line x1="249.8" y1="138.3" x2="249.8" y2="140.4" stroke="#b0b0b0" stroke-width="0.7"/>
<text x="0" y="1.764" transform="translate(249.83999999999997,144.336) scale(1,1.03)" font-size="4.9" fill="#2e2e2e" text-anchor="middle" font-weight="normal" stroke="#2e2e2e" stroke-width="0.0" >1</text>
<line x1="281.0" y1="138.3" x2="281.0" y2="140.4" stroke="#b0b0b0" stroke-width="0.7"/>
<text x="0" y="1.764" transform="translate(280.98,144.336) scale(1,1.03)" font-size="4.9" fill="#2e2e2e" text-anchor="middle" font-weight="normal" stroke="#2e2e2e" stroke-width="0.0" >2</text>
<line x1="312.1" y1="138.3" x2="312.1" y2="140.4" stroke="#b0b0b0" stroke-width="0.7"/>
<text x="0" y="1.764" transform="translate(312.12,144.336) scale(1,1.03)" font-size="4.9" fill="#2e2e2e" text-anchor="middle" font-weight="normal" stroke="#2e2e2e" stroke-width="0.0" >3</text>
<line x1="343.3" y1="138.3" x2="343.3" y2="140.4" stroke="#b0b0b0" stroke-width="0.7"/>
<text x="0" y="1.764" transform="translate(343.26,144.336) scale(1,1.03)" font-size="4.9" fill="#2e2e2e" text-anchor="middle" font-weight="normal" stroke="#2e2e2e" stroke-width="0.0" >4</text>
<line x1="374.4" y1="138.3" x2="374.4" y2="140.4" stroke="#b0b0b0" stroke-width="0.7"/>
<text x="0" y="1.764" transform="translate(374.4,144.336) scale(1,1.03)" font-size="4.9" fill="#2e2e2e" text-anchor="middle" font-weight="normal" stroke="#2e2e2e" stroke-width="0.0" >5</text>
<text x="0" y="1.764" transform="translate(296.6,149.236) scale(1,1.03)" font-size="4.9" fill="#2e2e2e" text-anchor="middle" font-weight="normal" stroke="#2e2e2e" stroke-width="0.0" >Years</text>
<path d="M219.30,26.50 L219.38,27.08 L219.48,27.85 L219.61,28.76 L219.75,29.78 L219.90,30.87 L220.04,31.99 L220.18,33.11 L220.30,34.18 L220.41,35.28 L220.50,36.46 L220.60,37.68 L220.69,38.91 L220.78,40.11 L220.88,41.25 L220.98,42.28 L221.10,43.17 L221.23,43.92 L221.37,44.55 L221.51,45.09 L221.66,45.56 L221.82,45.98 L221.98,46.37 L222.14,46.76 L222.30,47.15 L222.45,47.53 L222.59,47.85 L222.72,48.14 L222.86,48.41 L223.01,48.68 L223.20,48.98 L223.42,49.32 L223.70,49.73 L223.96,50.16 L224.15,50.56 L224.34,50.97 L224.58,51.42 L224.93,51.95 L225.45,52.58 L226.18,53.35 L227.20,54.28 L228.57,55.44 L230.26,56.84 L232.20,58.40 L234.29,60.05 L236.45,61.73 L238.60,63.34 L240.64,64.84 L242.50,66.14 L244.11,67.21 L245.53,68.09 L246.84,68.85 L248.14,69.55 L249.52,70.27 L251.06,71.07 L252.86,72.00 L255.00,73.15 L257.53,74.53 L260.37,76.10 L263.46,77.81 L266.72,79.60 L270.08,81.41 L273.46,83.19 L276.79,84.89 L280.00,86.46 L283.06,87.86 L286.02,89.16 L288.94,90.38 L291.88,91.56 L294.89,92.75 L298.05,93.99 L301.40,95.32 L305.00,96.77 L308.97,98.39 L313.30,100.15 L317.88,102.01 L322.56,103.92 L327.24,105.81 L331.79,107.64 L336.08,109.37 L340.00,110.93 L343.62,112.36 L347.10,113.72 L350.42,115.01 L353.56,116.22 L356.51,117.35 L359.24,118.38 L361.75,119.32 L364.00,120.16 L365.99,120.87 L367.72,121.46 L369.21,121.95 L370.50,122.35 L371.60,122.68 L372.53,122.96 L373.32,123.19 L374.00,123.40 L374.00,129.80 L373.32,129.57 L372.53,129.31 L371.60,129.01 L370.50,128.65 L369.21,128.20 L367.72,127.67 L365.99,127.02 L364.00,126.24 L361.75,125.34 L359.24,124.33 L356.51,123.21 L353.56,121.99 L350.42,120.68 L347.10,119.29 L343.62,117.82 L340.00,116.27 L336.08,114.59 L331.79,112.73 L327.24,110.76 L322.56,108.72 L317.88,106.67 L313.30,104.67 L308.97,102.77 L305.00,101.03 L301.40,99.47 L298.05,98.04 L294.89,96.70 L291.88,95.41 L288.94,94.14 L286.02,92.83 L283.06,91.44 L280.00,89.94 L276.79,88.28 L273.46,86.47 L270.08,84.58 L266.72,82.67 L263.46,80.78 L260.37,78.98 L257.53,77.32 L255.00,75.85 L252.86,74.64 L251.06,73.65 L249.52,72.81 L248.14,72.05 L246.84,71.30 L245.53,70.50 L244.11,69.57 L242.50,68.46 L240.64,67.10 L238.60,65.54 L236.45,63.86 L234.29,62.12 L232.20,60.40 L230.26,58.78 L228.57,57.33 L227.20,56.12 L226.18,55.16 L225.45,54.37 L224.93,53.73 L224.58,53.19 L224.34,52.73 L224.15,52.31 L223.96,51.90 L223.70,51.47 L223.42,51.05 L223.20,50.70 L223.01,50.40 L222.86,50.12 L222.72,49.84 L222.59,49.55 L222.45,49.23 L222.30,48.85 L222.14,48.45 L221.98,48.06 L221.82,47.66 L221.66,47.24 L221.51,46.76 L221.37,46.22 L221.23,45.58 L221.10,44.83 L220.98,43.93 L220.88,42.90 L220.78,41.76 L220.69,40.55 L220.60,39.32 L220.50,38.09 L220.41,36.91 L220.30,35.82 L220.18,34.74 L220.04,33.61 L219.90,32.49 L219.75,31.39 L219.61,30.37 L219.48,29.46 L219.38,28.69 L219.30,28.10 Z" fill="#d6eacc" fill-opacity="0.9" stroke="none"/>
<path d="M219.30,26.70 L219.39,26.91 L219.50,27.19 L219.64,27.53 L219.79,27.91 L219.96,28.30 L220.14,28.69 L220.32,29.06 L220.50,29.39 L220.67,29.68 L220.81,29.95 L220.96,30.21 L221.11,30.46 L221.30,30.72 L221.53,30.98 L221.83,31.27 L222.20,31.57 L222.53,31.87 L222.75,32.14 L222.96,32.41 L223.26,32.69 L223.73,33.02 L224.48,33.42 L225.60,33.91 L227.20,34.52 L229.35,35.27 L232.00,36.15 L235.04,37.12 L238.35,38.16 L241.82,39.23 L245.32,40.32 L248.76,41.38 L252.00,42.38 L255.03,43.33 L257.93,44.25 L260.79,45.16 L263.68,46.07 L266.66,47.00 L269.83,47.96 L273.25,48.97 L277.00,50.04 L281.22,51.21 L285.89,52.48 L290.87,53.81 L296.00,55.17 L301.13,56.52 L306.11,57.83 L310.78,59.05 L315.00,60.17 L318.68,61.15 L321.95,62.02 L324.92,62.80 L327.74,63.55 L330.52,64.29 L333.41,65.06 L336.52,65.89 L340.00,66.83 L344.07,67.94 L348.70,69.20 L353.65,70.56 L358.66,71.93 L363.48,73.25 L367.84,74.45 L371.50,75.46 L374.20,76.20 L374.20,80.40 L371.50,79.61 L367.84,78.53 L363.48,77.25 L358.66,75.83 L353.65,74.36 L348.70,72.91 L344.07,71.55 L340.00,70.37 L336.52,69.36 L333.41,68.47 L330.52,67.64 L327.74,66.85 L324.92,66.05 L321.95,65.21 L318.68,64.28 L315.00,63.23 L310.78,62.03 L306.11,60.71 L301.13,59.31 L296.00,57.86 L290.87,56.40 L285.89,54.97 L281.22,53.61 L277.00,52.36 L273.25,51.21 L269.83,50.14 L266.66,49.12 L263.68,48.13 L260.79,47.17 L257.93,46.20 L255.03,45.23 L252.00,44.22 L248.76,43.15 L245.32,42.02 L241.82,40.87 L238.35,39.73 L235.04,38.63 L232.00,37.59 L229.35,36.67 L227.20,35.88 L225.60,35.24 L224.48,34.72 L223.73,34.31 L223.26,33.97 L222.96,33.68 L222.75,33.41 L222.53,33.13 L222.20,32.83 L221.83,32.51 L221.53,32.23 L221.30,31.96 L221.11,31.70 L220.96,31.44 L220.81,31.18 L220.67,30.91 L220.50,30.61 L220.32,30.28 L220.14,29.90 L219.96,29.51 L219.79,29.12 L219.64,28.74 L219.50,28.40 L219.39,28.11 L219.30,27.90 Z" fill="#d4e4f4" fill-opacity="0.9" stroke="none"/>
<path d="M219.30,26.50 L219.65,26.66 L220.09,26.88 L220.61,27.14 L221.21,27.43 L221.87,27.73 L222.59,28.02 L223.37,28.30 L224.20,28.55 L225.03,28.75 L225.86,28.91 L226.73,29.06 L227.66,29.21 L228.71,29.36 L229.90,29.55 L231.29,29.77 L232.90,30.05 L234.73,30.38 L236.74,30.76 L238.91,31.17 L241.24,31.61 L243.73,32.07 L246.36,32.55 L249.12,33.04 L252.00,33.54 L254.86,34.02 L257.62,34.48 L260.44,34.95 L263.44,35.43 L266.77,35.96 L270.54,36.56 L274.91,37.24 L280.00,38.03 L286.14,38.98 L293.35,40.07 L301.27,41.27 L309.59,42.52 L317.95,43.78 L326.04,45.01 L333.50,46.16 L340.00,47.17 L345.78,48.10 L351.25,49.00 L356.36,49.86 L361.05,50.65 L365.28,51.38 L368.98,52.03 L372.10,52.57 L374.60,52.99 L374.60,58.01 L372.10,57.53 L368.98,56.92 L365.28,56.19 L361.05,55.37 L356.36,54.47 L351.25,53.50 L345.78,52.48 L340.00,51.43 L333.50,50.27 L326.04,48.96 L317.95,47.55 L309.59,46.10 L301.27,44.67 L293.35,43.30 L286.14,42.04 L280.00,40.97 L274.91,40.06 L270.54,39.29 L266.77,38.61 L263.44,38.00 L260.44,37.45 L257.62,36.93 L254.86,36.40 L252.00,35.86 L249.12,35.30 L246.36,34.75 L243.73,34.21 L241.24,33.69 L238.91,33.20 L236.74,32.74 L234.73,32.32 L232.90,31.95 L231.29,31.63 L229.90,31.38 L228.71,31.17 L227.66,30.99 L226.73,30.83 L225.86,30.66 L225.03,30.47 L224.20,30.25 L223.37,29.99 L222.59,29.70 L221.87,29.39 L221.21,29.07 L220.61,28.77 L220.09,28.50 L219.65,28.27 L219.30,28.10 Z" fill="#f6efd4" fill-opacity="0.95" stroke="none"/>
<path d="M219.30,26.80 L221.85,26.96 L225.29,27.18 L229.37,27.44 L233.90,27.72 L238.64,28.03 L243.39,28.34 L247.91,28.65 L252.00,28.95 L255.51,29.23 L258.58,29.50 L261.44,29.76 L264.29,30.03 L267.36,30.33 L270.86,30.65 L275.00,31.01 L280.00,31.43 L286.14,31.92 L293.35,32.49 L301.27,33.12 L309.59,33.77 L317.95,34.42 L326.04,35.04 L333.50,35.59 L340.00,36.05 L345.78,36.44 L351.25,36.77 L356.36,37.06 L361.05,37.31 L365.28,37.53 L368.98,37.71 L372.10,37.87 L374.60,38.00 L374.60,40.40 L372.10,40.25 L368.98,40.07 L365.28,39.85 L361.05,39.60 L356.36,39.31 L351.25,38.97 L345.78,38.58 L340.00,38.15 L333.50,37.62 L326.04,37.00 L317.95,36.31 L309.59,35.59 L301.27,34.86 L293.35,34.16 L286.14,33.52 L280.00,32.97 L275.00,32.51 L270.86,32.11 L267.36,31.76 L264.29,31.44 L261.44,31.14 L258.58,30.85 L255.51,30.56 L252.00,30.25 L247.91,29.91 L243.39,29.56 L238.64,29.20 L233.90,28.85 L229.37,28.53 L225.29,28.23 L221.85,27.99 L219.30,27.80 Z" fill="#f4d8da" fill-opacity="0.85" stroke="none"/>
<path d="M219.30,27.30 L221.85,27.48 L225.29,27.71 L229.37,27.98 L233.90,28.29 L238.64,28.61 L243.39,28.95 L247.91,29.28 L252.00,29.60 L255.51,29.89 L258.58,30.18 L261.44,30.45 L264.29,30.74 L267.36,31.04 L270.86,31.38 L275.00,31.76 L280.00,32.20 L286.14,32.72 L293.35,33.33 L301.27,33.99 L309.59,34.68 L317.95,35.37 L326.04,36.02 L333.50,36.61 L340.00,37.10 L345.78,37.51 L351.25,37.87 L356.36,38.18 L361.05,38.46 L365.28,38.69 L368.98,38.89 L372.10,39.06 L374.60,39.20" fill="none" stroke="#b8646c" stroke-width="0.95"/>
<path d="M219.30,27.30 L219.65,27.47 L220.09,27.69 L220.61,27.96 L221.21,28.25 L221.87,28.56 L222.59,28.86 L223.37,29.15 L224.20,29.40 L225.03,29.61 L225.86,29.79 L226.73,29.94 L227.66,30.10 L228.71,30.27 L229.90,30.46 L231.29,30.70 L232.90,31.00 L234.73,31.35 L236.74,31.75 L238.91,32.19 L241.24,32.65 L243.73,33.14 L246.36,33.65 L249.12,34.17 L252.00,34.70 L254.86,35.21 L257.62,35.71 L260.44,36.20 L263.44,36.72 L266.77,37.29 L270.54,37.92 L274.91,38.65 L280.00,39.50 L286.14,40.51 L293.35,41.68 L301.27,42.97 L309.59,44.31 L317.95,45.67 L326.04,46.99 L333.50,48.21 L340.00,49.30 L345.78,50.29 L351.25,51.25 L356.36,52.16 L361.05,53.01 L365.28,53.79 L368.98,54.47 L372.10,55.05 L374.60,55.50" fill="none" stroke="#eadba6" stroke-width="1.2"/>
<path d="M219.30,27.30 L219.39,27.51 L219.50,27.80 L219.64,28.14 L219.79,28.51 L219.96,28.91 L220.14,29.30 L220.32,29.67 L220.50,30.00 L220.67,30.29 L220.81,30.57 L220.96,30.83 L221.11,31.08 L221.30,31.34 L221.53,31.61 L221.83,31.89 L222.20,32.20 L222.53,32.50 L222.75,32.77 L222.96,33.04 L223.26,33.33 L223.73,33.67 L224.48,34.07 L225.60,34.58 L227.20,35.20 L229.35,35.97 L232.00,36.87 L235.04,37.87 L238.35,38.94 L241.82,40.05 L245.32,41.17 L248.76,42.26 L252.00,43.30 L255.03,44.28 L257.93,45.23 L260.79,46.16 L263.68,47.10 L266.66,48.06 L269.83,49.05 L273.25,50.09 L277.00,51.20 L281.22,52.41 L285.89,53.73 L290.87,55.11 L296.00,56.51 L301.13,57.91 L306.11,59.27 L310.78,60.54 L315.00,61.70 L318.68,62.72 L321.95,63.61 L324.92,64.43 L327.74,65.20 L330.52,65.97 L333.41,66.76 L336.52,67.63 L340.00,68.60 L344.07,69.74 L348.70,71.06 L353.65,72.46 L358.66,73.88 L363.48,75.25 L367.84,76.49 L371.50,77.53 L374.20,78.30" fill="none" stroke="#6582b2" stroke-width="1.0"/>
<path d="M219.30,27.30 L219.38,27.89 L219.48,28.65 L219.61,29.57 L219.75,30.59 L219.90,31.68 L220.04,32.80 L220.18,33.92 L220.30,35.00 L220.41,36.10 L220.50,37.28 L220.60,38.50 L220.69,39.73 L220.78,40.93 L220.88,42.07 L220.98,43.11 L221.10,44.00 L221.23,44.75 L221.37,45.38 L221.51,45.93 L221.66,46.40 L221.82,46.82 L221.98,47.22 L222.14,47.60 L222.30,48.00 L222.45,48.38 L222.59,48.70 L222.72,48.99 L222.86,49.26 L223.01,49.54 L223.20,49.84 L223.42,50.19 L223.70,50.60 L223.96,51.03 L224.15,51.43 L224.34,51.85 L224.58,52.31 L224.93,52.84 L225.45,53.48 L226.18,54.25 L227.20,55.20 L228.57,56.39 L230.26,57.81 L232.20,59.40 L234.29,61.09 L236.45,62.79 L238.60,64.44 L240.64,65.97 L242.50,67.30 L244.11,68.39 L245.53,69.29 L246.84,70.07 L248.14,70.80 L249.52,71.54 L251.06,72.36 L252.86,73.32 L255.00,74.50 L257.53,75.92 L260.37,77.54 L263.46,79.29 L266.72,81.13 L270.08,83.00 L273.46,84.83 L276.79,86.59 L280.00,88.20 L283.06,89.65 L286.02,90.99 L288.94,92.26 L291.88,93.49 L294.89,94.73 L298.05,96.01 L301.40,97.39 L305.00,98.90 L308.97,100.58 L313.30,102.41 L317.88,104.34 L322.56,106.32 L327.24,108.29 L331.79,110.19 L336.08,111.98 L340.00,113.60 L343.62,115.09 L347.10,116.50 L350.42,117.85 L353.56,119.11 L356.51,120.28 L359.24,121.36 L361.75,122.33 L364.00,123.20 L365.99,123.94 L367.72,124.57 L369.21,125.08 L370.50,125.50 L371.60,125.85 L372.53,126.13 L373.32,126.38 L374.00,126.60" fill="none" stroke="#5c8e54" stroke-width="0.95"/>
<polyline points="375.5,39.3 383.6,39.3 383.6,126.8 375.5,126.8" fill="none" stroke="#bcbcbc" stroke-width="0.8"/>
<line x1="376" y1="56" x2="383.6" y2="56" stroke="#bcbcbc" stroke-width="1.1"/>
<line x1="376" y1="78.6" x2="383.6" y2="78.6" stroke="#c4c4c4" stroke-width="1.4"/>
<circle cx="391.1" cy="45.5" r="0.9" fill="#111"/>
<circle cx="391.1" cy="66.1" r="0.9" fill="#111"/>
<circle cx="391.1" cy="98.8" r="0.9" fill="#111"/>
<text x="0" y="2.124" transform="translate(340.3,133.276) scale(1,1.03)" font-size="5.9" fill="#262626" text-anchor="start" font-weight="normal" stroke="#262626" stroke-width="0.0" >*p&lt;0.0001</text>
<text x="0" y="1.980" transform="translate(220.1,118.420) scale(1,1.0)" font-size="5.5" fill="#2a2a2a" text-anchor="start" font-weight="normal" stroke="#2a2a2a" stroke-width="0.0" textLength="110.7" lengthAdjust="spacing">Quartile of MACE probability by Deep learning</text>
<text x="0" y="1.980" transform="translate(220.1,125.120) scale(1,1.0)" font-size="5.5" fill="#2a2a2a" text-anchor="start" font-weight="normal" stroke="#2a2a2a" stroke-width="0.0" textLength="113.6" lengthAdjust="spacing">20401 patients undergoing Tc-99m SPECTMPI</text>
<text x="0" y="1.980" transform="translate(220.1,131.720) scale(1,1.0)" font-size="5.5" fill="#2a2a2a" text-anchor="start" font-weight="normal" stroke="#2a2a2a" stroke-width="0.0" textLength="114.2" lengthAdjust="spacing">Follow up 4.4 [interquartile range 3.4-5.7] years</text>
<text x="0" y="1.800" transform="translate(216,152.600) scale(1,1.03)" font-size="5.0" fill="#262626" text-anchor="start" font-weight="normal" stroke="#262626" stroke-width="0.0" >Probability of MACE</text>
<text x="0" y="1.800" transform="translate(216,158.900) scale(1,1.03)" font-size="5.0" fill="#262626" text-anchor="start" font-weight="normal" stroke="#262626" stroke-width="0.0" >by Deep Learning</text>
<text x="0" y="2.070" transform="translate(218.7,167.780) scale(1,1.03)" font-size="5.75" fill="#c94440" text-anchor="start" font-weight="normal" stroke="#c94440" stroke-width="0.0" >&lt;0.13</text>
<text x="0" y="2.088" transform="translate(257.2,167.762) scale(1,1.03)" font-size="5.8" fill="#c94440" text-anchor="middle" font-weight="normal" stroke="#c94440" stroke-width="0.0" >5096</text>
<text x="0" y="2.088" transform="translate(280.8,167.762) scale(1,1.03)" font-size="5.8" fill="#c94440" text-anchor="middle" font-weight="normal" stroke="#c94440" stroke-width="0.0" >5036</text>
<text x="0" y="2.088" transform="translate(304.4,167.762) scale(1,1.03)" font-size="5.8" fill="#c94440" text-anchor="middle" font-weight="normal" stroke="#c94440" stroke-width="0.0" >4991</text>
<text x="0" y="2.088" transform="translate(328,167.762) scale(1,1.03)" font-size="5.8" fill="#c94440" text-anchor="middle" font-weight="normal" stroke="#c94440" stroke-width="0.0" >4666</text>
<text x="0" y="2.088" transform="translate(351.6,167.762) scale(1,1.03)" font-size="5.8" fill="#c94440" text-anchor="middle" font-weight="normal" stroke="#c94440" stroke-width="0.0" >3420</text>
<text x="0" y="2.088" transform="translate(375.2,167.762) scale(1,1.03)" font-size="5.8" fill="#c94440" text-anchor="middle" font-weight="normal" stroke="#c94440" stroke-width="0.0" >2118</text>
<text x="0" y="2.070" transform="translate(218.7,178.580) scale(1,1.03)" font-size="5.75" fill="#bf5e3c" text-anchor="start" font-weight="normal" stroke="#bf5e3c" stroke-width="0.0" >0.13-0.29</text>
<text x="0" y="2.088" transform="translate(257.2,178.562) scale(1,1.03)" font-size="5.8" fill="#bf5e3c" text-anchor="middle" font-weight="normal" stroke="#bf5e3c" stroke-width="0.0" >5100</text>
<text x="0" y="2.088" transform="translate(280.8,178.562) scale(1,1.03)" font-size="5.8" fill="#bf5e3c" text-anchor="middle" font-weight="normal" stroke="#bf5e3c" stroke-width="0.0" >4930</text>
<text x="0" y="2.088" transform="translate(304.4,178.562) scale(1,1.03)" font-size="5.8" fill="#bf5e3c" text-anchor="middle" font-weight="normal" stroke="#bf5e3c" stroke-width="0.0" >4828</text>
<text x="0" y="2.088" transform="translate(328,178.562) scale(1,1.03)" font-size="5.8" fill="#bf5e3c" text-anchor="middle" font-weight="normal" stroke="#bf5e3c" stroke-width="0.0" >4512</text>
<text x="0" y="2.088" transform="translate(351.6,178.562) scale(1,1.03)" font-size="5.8" fill="#bf5e3c" text-anchor="middle" font-weight="normal" stroke="#bf5e3c" stroke-width="0.0" >3185</text>
<text x="0" y="2.088" transform="translate(375.2,178.562) scale(1,1.03)" font-size="5.8" fill="#bf5e3c" text-anchor="middle" font-weight="normal" stroke="#bf5e3c" stroke-width="0.0" >1793</text>
<text x="0" y="2.070" transform="translate(218.7,191.980) scale(1,1.03)" font-size="5.75" fill="#3e70b0" text-anchor="start" font-weight="normal" stroke="#3e70b0" stroke-width="0.0" >0.29-0.50</text>
<text x="0" y="2.088" transform="translate(257.2,191.962) scale(1,1.03)" font-size="5.8" fill="#3e70b0" text-anchor="middle" font-weight="normal" stroke="#3e70b0" stroke-width="0.0" >5089</text>
<text x="0" y="2.088" transform="translate(280.8,191.962) scale(1,1.03)" font-size="5.8" fill="#3e70b0" text-anchor="middle" font-weight="normal" stroke="#3e70b0" stroke-width="0.0" >4780</text>
<text x="0" y="2.088" transform="translate(304.4,191.962) scale(1,1.03)" font-size="5.8" fill="#3e70b0" text-anchor="middle" font-weight="normal" stroke="#3e70b0" stroke-width="0.0" >4591</text>
<text x="0" y="2.088" transform="translate(328,191.962) scale(1,1.03)" font-size="5.8" fill="#3e70b0" text-anchor="middle" font-weight="normal" stroke="#3e70b0" stroke-width="0.0" >4252</text>
<text x="0" y="2.088" transform="translate(351.6,191.962) scale(1,1.03)" font-size="5.8" fill="#3e70b0" text-anchor="middle" font-weight="normal" stroke="#3e70b0" stroke-width="0.0" >3057</text>
<text x="0" y="2.088" transform="translate(375.2,191.962) scale(1,1.03)" font-size="5.8" fill="#3e70b0" text-anchor="middle" font-weight="normal" stroke="#3e70b0" stroke-width="0.0" >1661</text>
<text x="0" y="2.070" transform="translate(218.7,204.480) scale(1,1.03)" font-size="5.75" fill="#4f9a46" text-anchor="start" font-weight="normal" stroke="#4f9a46" stroke-width="0.0" >0.50-1.00</text>
<text x="0" y="2.088" transform="translate(257.2,204.462) scale(1,1.03)" font-size="5.8" fill="#4f9a46" text-anchor="middle" font-weight="normal" stroke="#4f9a46" stroke-width="0.0" >5069</text>
<text x="0" y="2.088" transform="translate(280.8,204.462) scale(1,1.03)" font-size="5.8" fill="#4f9a46" text-anchor="middle" font-weight="normal" stroke="#4f9a46" stroke-width="0.0" >4224</text>
<text x="0" y="2.088" transform="translate(304.4,204.462) scale(1,1.03)" font-size="5.8" fill="#4f9a46" text-anchor="middle" font-weight="normal" stroke="#4f9a46" stroke-width="0.0" >3917</text>
<text x="0" y="2.088" transform="translate(328,204.462) scale(1,1.03)" font-size="5.8" fill="#4f9a46" text-anchor="middle" font-weight="normal" stroke="#4f9a46" stroke-width="0.0" >3530</text>
<text x="0" y="2.088" transform="translate(351.6,204.462) scale(1,1.03)" font-size="5.8" fill="#4f9a46" text-anchor="middle" font-weight="normal" stroke="#4f9a46" stroke-width="0.0" >2592</text>
<text x="0" y="2.088" transform="translate(375.2,204.462) scale(1,1.03)" font-size="5.8" fill="#4f9a46" text-anchor="middle" font-weight="normal" stroke="#4f9a46" stroke-width="0.0" >1558</text>
</svg>
<div class="cap j" style="top:223px"><b>Figure:</b> Prediction performance of MACE-DL (major adverse cardiovascular events by deep learning) model, stress total</div>
<div class="cap" style="top:230.5px">perfusion defect (TPD) and ischemic TPD (<b>left</b>) and Kaplan-Meier curves for quartiles of MACE-DL.</div>
</div></body></html>
